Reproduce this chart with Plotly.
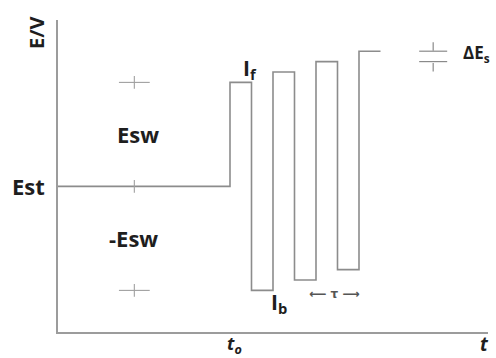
import plotly.graph_objects as go

# Square-wave voltammetry potential program (time in half-periods, potential in units of dEs)
step_times = [0, 8, 9, 10, 11, 12, 13, 14, 15]
step_potentials = [0, 10, -10, 11, -9, 12, -8, 13, 13]

# Reference levels marking Est and +/-Esw
level_t = [3.55, 3.55, 3.55]
level_e = [10, 0, -10]

# Bracket marking the step height dEs
step_mark_t = [17.45, 17.45]
step_mark_e = [13, 12]

X_RANGE = [0, 20]
Y_RANGE = [-14, 16]

LINE = "#8c8c8c"
TEXT = "#1e1e1e"
FONT = "Open Sans"

fig = go.Figure()

fig.add_trace(go.Scatter(
    x=step_times, y=step_potentials, mode="lines",
    line=dict(color=LINE, width=1.6, shape="hv"),
    hoverinfo="skip", showlegend=False,
))

# horizontal dashes at +/-Esw
fig.add_trace(go.Scatter(
    x=[level_t[0], level_t[2]], y=[level_e[0], level_e[2]], mode="markers",
    marker=dict(symbol="line-ew", size=22, line=dict(color="#a0a0a0", width=1.1)),
    hoverinfo="skip", showlegend=False,
))
# small vertical ticks at each level
fig.add_trace(go.Scatter(
    x=level_t, y=level_e, mode="markers",
    marker=dict(symbol="line-ns", size=9, line=dict(color="#a0a0a0", width=1.1)),
    hoverinfo="skip", showlegend=False,
))

# dEs bracket
fig.add_trace(go.Scatter(
    x=step_mark_t, y=step_mark_e, mode="markers",
    marker=dict(symbol="line-ew", size=20, line=dict(color="#8a8a8a", width=1.2)),
    hoverinfo="skip", showlegend=False,
))
fig.add_trace(go.Scatter(
    x=step_mark_t, y=[step_mark_e[0] + 0.45, step_mark_e[1] - 0.55], mode="markers",
    marker=dict(symbol="line-ns", size=6, line=dict(color="#8a8a8a", width=1.2)),
    hoverinfo="skip", showlegend=False,
))


def to_paper(x, y):
    px = (x - X_RANGE[0]) / (X_RANGE[1] - X_RANGE[0])
    py = (y - Y_RANGE[0]) / (Y_RANGE[1] - Y_RANGE[0])
    return px, py


def label(x, y, text, size, color=TEXT, xanchor="center", textangle=0, italic=False,
          family=FONT):
    px, py = to_paper(x, y)
    fig.add_annotation(
        x=px, y=py, xref="paper", yref="paper", text=text, showarrow=False,
        xanchor=xanchor, yanchor="middle", textangle=textangle,
        font=dict(family=family, size=size, color=color,
                  weight="bold", style="italic" if italic else "normal"),
    )


label(3.7, 5.0, "Esw", 22)
label(3.5, -5.0, "-Esw", 22)
label(-1.35, 0.0, "Est", 22)
label(-1.0, 14.7, "E/V", 20, textangle=-90)
label(8.95, 11.3, "I<sub>f</sub>", 21)
label(10.3, -11.2, "I<sub>b</sub>", 21)
label(12.85, -10.3, "⟵ τ ⟶", 12, color="#555555", family="DejaVu Sans")
label(18.75, 12.8, "ΔE<sub>s</sub>", 17, xanchor="left")
label(8.2, -15.2, "t<sub>o</sub>", 18, italic=True)
label(19.85, -15.2, "t", 19, italic=True)

fig.update_layout(
    width=496, height=358,
    margin=dict(l=58, r=8, t=20, b=26),
    paper_bgcolor="white", plot_bgcolor="white",
    xaxis=dict(range=X_RANGE, showgrid=False, zeroline=False, showticklabels=False,
               ticks="", showline=True, linecolor="#9c9c9c", linewidth=1.5),
    yaxis=dict(range=Y_RANGE, showgrid=False, zeroline=False, showticklabels=False,
               ticks="", showline=True, linecolor="#9c9c9c", linewidth=1.5),
)

fig.write_html("out.html")
